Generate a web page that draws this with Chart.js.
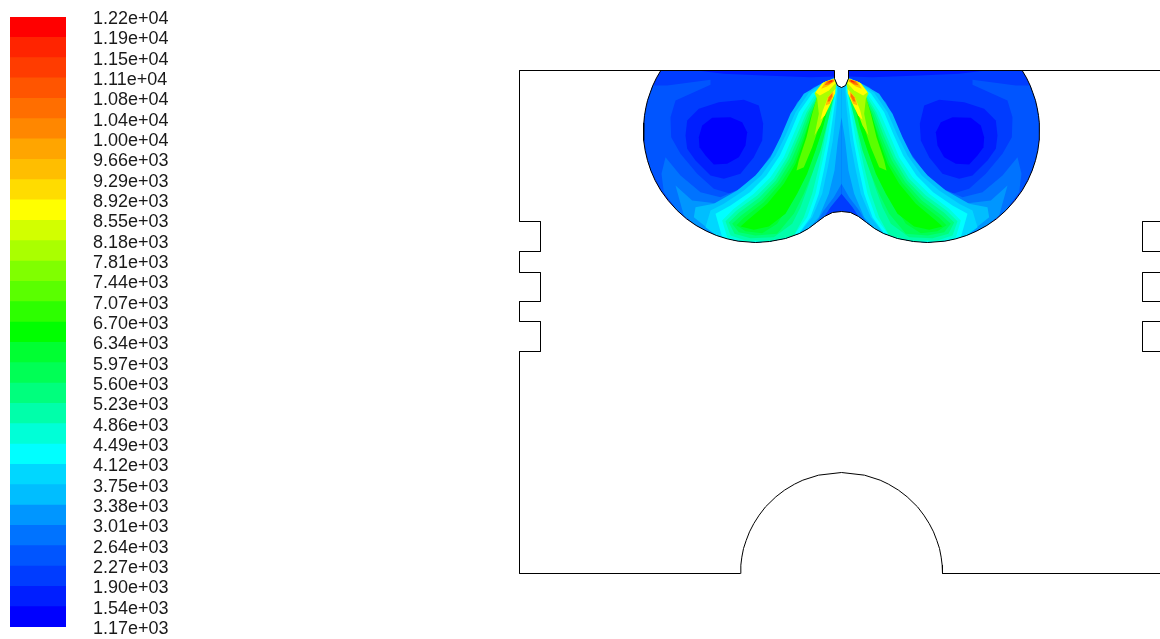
<!DOCTYPE html>
<html>
<head>
<meta charset="utf-8">
<title>Contours</title>
<script src="https://cdn.jsdelivr.net/npm/chart.js@4"></script>
<style>
    html, body { margin: 0; padding: 0; background: #fff; overflow: hidden; }
    canvas { position: absolute; top: 0; }
    #leyenda { left: 0; }
    #campo { left: 500px; }
</style>
</head>
<body>
<canvas id="leyenda" width="190" height="639"></canvas>
<canvas id="campo" width="660" height="639"></canvas>
<script>
// Etiquetas de la escala, de abajo a arriba
const tickLabels = ['1.17e+03', '1.54e+03', '1.90e+03', '2.27e+03', '2.64e+03', '3.01e+03', '3.38e+03', '3.75e+03',
    '4.12e+03', '4.49e+03', '4.86e+03', '5.23e+03', '5.60e+03', '5.97e+03', '6.34e+03', '6.70e+03',
    '7.07e+03', '7.44e+03', '7.81e+03', '8.18e+03', '8.55e+03', '8.92e+03', '9.29e+03', '9.66e+03',
    '1.00e+04', '1.04e+04', '1.08e+04', '1.11e+04', '1.15e+04', '1.19e+04', '1.22e+04'];

// Niveles sin redondear que separan las bandas
const levels = [1170, 1538, 1905, 2273, 2641, 3008, 3376, 3744, 4112, 4479, 4847, 5215, 5582, 5950, 6318, 6685,
    7053, 7421, 7788, 8156, 8524, 8892, 9259, 9627, 9995, 10362, 10730, 11098, 11466, 11833, 12200];

// Colores de cada banda, de la mas baja a la mas alta
const bandColors = ['#0000ff', '#001eff', '#003cff', '#0055ff', '#0073ff', '#0096ff', '#00beff', '#00d7ff',
    '#00ffff', '#00ffd7', '#00ffaa', '#00ff7d', '#00ff55', '#00ff32', '#00ff00', '#2dff00', '#5aff00',
    '#80ff00', '#aaff00', '#d2ff00', '#ffff00', '#ffdc00', '#ffbe00', '#ffa500', '#ff8700', '#ff6e00',
    '#ff5500', '#ff3c00', '#ff2400', '#ff0000'];

// Contorno de la geometria (coordenadas de malla, 3 unidades por pixel)
const wallLeft = [[612,30],[-333,30],[-333,483],[-270,483],[-270,573],[-333,573],[-333,636],[-270,636],[-270,723],[-333,723],
    [-333,783],[-270,783],[-270,873],[-333,873],[-333,1539],[330,1539],[331,1514],[334,1490],[339,1464],[347,1440],[357,1414],
    [370,1389],[386,1364],[405,1339],[436,1309],[462,1289],[492,1271],[517,1259],[564,1244],[633,1236],[702,1244],[749,1259],
    [774,1271],[804,1289],[830,1309],[861,1339],[880,1364],[896,1389],[909,1414],[919,1440],[927,1464],[932,1490],[935,1514],
    [936,1539],[1590,1539]];
const wallRight = [[654,30],[1590,30]];
const slotsRight1 = [[1590,483],[1536,483],[1536,573],[1590,573]];
const slotsRight2 = [[1590,636],[1536,636],[1536,723],[1590,723]];
const slotsRight3 = [[1590,783],[1536,783],[1536,873],[1590,873]];

const bean = [[91,30],[78,52],[67,75],[59,97],[51,120],[46,142],[42,165],[40,187],[39,210],[40,240],[44,270],[51,300],[61,330],
    [74,360],[91,390],[113,420],[140,450],[168,475],[197,495],[228,512],[258,525],[290,535],[323,542],[375,546],[417,543],
    [465,534],[507,519],[534,504],[558,486],[582,468],[606,456],[633,453],[660,456],[684,468],[708,486],[732,504],[759,519],
    [801,534],[849,543],[891,546],[943,542],[976,535],[1008,525],[1038,512],[1069,495],[1098,475],[1126,450],[1153,420],
    [1175,390],[1192,360],[1205,330],[1215,300],[1222,270],[1226,240],[1227,210],[1226,187],[1224,165],[1220,142],[1215,120],
    [1207,97],[1199,75],[1188,52],[1175,30],[654,30],[654,54],[645,75],[633,81],[621,75],[612,54],[612,30]];

// Zonas de contorno, lado izquierdo y derecho
const lightL = [[66,75],[110,75],[240,58],[240,73],[135,120],[120,170],[122,230],[150,280],[200,340],[250,385],[300,400],[340,395],[280,470],[200,495],[141,450],[93,390],[60,330],[45,270],[39,210],[42,165],[51,120]];
const lightR = [[1200,75],[1156,75],[1026,58],[1026,73],[1131,120],[1146,170],[1144,230],[1116,280],[1066,340],[1016,385],[966,400],[926,395],[986,470],[1066,495],[1125,450],[1173,390],[1206,330],[1221,270],[1227,210],[1224,165],[1215,120]];
const ringL = [[165,225],[170,180],[205,145],[265,125],[340,118],[385,135],[398,190],[395,240],[370,290],[330,340],[280,355],[240,345],[195,300],[170,265]];
const ringR = [[1101,225],[1096,180],[1061,145],[1001,125],[926,118],[881,135],[868,190],[871,240],[896,290],[936,340],[986,355],[1026,345],[1071,300],[1096,265]];
const coreL = [[205,230],[215,195],[245,172],[300,170],[335,185],[350,215],[345,255],[325,290],[290,310],[250,312],[225,285],[207,260]];
const coreR = [[1061,230],[1051,195],[1021,172],[966,170],[931,185],[916,215],[921,255],[941,290],[976,310],[1016,312],[1041,285],[1059,260]];
const stripL = [[200,30],[612,30],[612,48],[540,50],[400,45],[280,40]];
const stripR = [[654,30],[1066,30],[986,40],[866,45],[726,50],[654,48]];

const band4L = [[93,340],[105,290],[150,345],[210,395],[270,410],[330,385],[385,335],[435,265],[470,190],[500,125],[550,80],[610,52],[621,76],[633,82],[633,400],[600,440],[582,468],[558,486],[534,504],[507,519],[465,534],[417,543],[375,546],[312,540],[258,525],[198,495],[141,450],[100,395]];
const band4R = [[1173,340],[1161,290],[1116,345],[1056,395],[996,410],[936,385],[881,335],[831,265],[796,190],[766,125],[716,80],[656,52],[645,76],[633,82],[633,400],[666,440],[684,468],[708,486],[732,504],[759,519],[801,534],[849,543],[891,546],[954,540],[1008,525],[1068,495],[1125,450],[1166,395]];
const band5L = [[135,375],[185,420],[255,428],[335,400],[395,345],[445,275],[480,195],[510,125],[560,78],[610,52],[621,76],[633,82],[633,370],[610,410],[580,450],[558,486],[534,504],[507,519],[465,534],[417,543],[375,546],[312,540],[258,525],[198,495],[160,465]];
const band5R = [[1131,375],[1081,420],[1011,428],[931,400],[871,345],[821,275],[786,195],[756,125],[706,78],[656,52],[645,76],[633,82],[633,370],[656,410],[686,450],[708,486],[732,504],[759,519],[801,534],[849,543],[891,546],[954,540],[1008,525],[1068,495],[1106,465]];
const band6L = [[580,65],[520,100],[480,160],[450,230],[420,290],[375,345],[320,390],[250,430],[195,440],[190,470],[258,525],[312,540],[375,546],[417,543],[465,534],[507,519],[534,504],[565,470],[595,400],[612,330],[622,240],[633,170],[633,82],[621,76],[610,54]];
const band6R = [[686,65],[746,100],[786,160],[816,230],[846,290],[891,345],[946,390],[1016,430],[1071,440],[1076,470],[1008,525],[954,540],[891,546],[849,543],[801,534],[759,519],[732,504],[701,470],[671,400],[654,330],[644,240],[633,170],[633,82],[645,76],[656,54]];
const band7L = [[590,62],[535,97],[495,155],[465,225],[435,285],[392,345],[340,390],[280,430],[240,450],[225,500],[258,525],[312,540],[375,546],[417,543],[465,534],[507,519],[545,470],[575,400],[592,320],[607,240],[617,150],[622,90],[621,76],[610,54]];
const band7R = [[676,62],[731,97],[771,155],[801,225],[831,285],[874,345],[926,390],[986,430],[1026,450],[1041,500],[1008,525],[954,540],[891,546],[849,543],[801,534],[759,519],[721,470],[691,400],[674,320],[659,240],[649,150],[644,90],[645,76],[656,54]];
const band8L = [[595,63],[545,98],[505,155],[478,220],[448,285],[408,345],[358,395],[300,435],[255,460],[275,530],[312,540],[375,546],[417,543],[465,534],[505,519],[540,470],[565,400],[582,320],[597,240],[610,150],[620,85],[610,56]];
const band8R = [[671,63],[721,98],[761,155],[788,220],[818,285],[858,345],[908,395],[966,435],[1011,460],[991,530],[954,540],[891,546],[849,543],[801,534],[761,519],[726,470],[701,400],[684,320],[669,240],[656,150],[646,85],[656,56]];
const band9L = [[598,65],[555,100],[518,155],[490,220],[460,290],[420,350],[370,400],[310,445],[275,480],[290,530],[340,544],[417,543],[465,534],[490,525],[530,470],[555,400],[572,320],[590,240],[603,160],[615,95],[612,62]];
const band9R = [[668,65],[711,100],[748,155],[776,220],[806,290],[846,350],[896,400],[956,445],[991,480],[976,530],[926,544],[849,543],[801,534],[776,525],[736,470],[711,400],[694,320],[676,240],[663,160],[651,95],[654,62]];
const band10L = [[600,68],[562,100],[528,155],[500,222],[470,290],[430,355],[380,405],[318,450],[285,482],[300,525],[345,540],[420,540],[490,525],[520,470],[545,400],[565,320],[580,250],[595,170],[605,100]];
const band10R = [[666,68],[704,100],[738,155],[766,222],[796,290],[836,355],[886,405],[948,450],[981,482],[966,525],[921,540],[846,540],[776,525],[746,470],[721,400],[701,320],[686,250],[671,170],[661,100]];
const band11L = [[600,70],[565,102],[533,157],[506,226],[476,295],[436,360],[386,412],[325,457],[295,486],[312,520],[360,533],[430,530],[485,490],[510,440],[535,372],[558,295],[578,220],[600,140],[610,100]];
const band11R = [[666,70],[701,102],[733,157],[760,226],[790,295],[830,360],[880,412],[941,457],[971,486],[954,520],[906,533],[836,530],[781,490],[756,440],[731,372],[708,295],[688,220],[666,140],[656,100]];
const band12L = [[600,73],[568,105],[538,160],[512,230],[482,300],[442,365],[392,420],[332,465],[305,490],[325,515],[375,525],[440,520],[490,460],[520,400],[545,340],[570,270],[590,190],[610,110]];
const band12R = [[666,73],[698,105],[728,160],[754,230],[784,300],[824,365],[874,420],[934,465],[961,490],[941,515],[891,525],[826,520],[776,460],[746,400],[721,340],[696,270],[676,190],[656,110]];
const band13L = [[575,108],[545,162],[517,235],[490,305],[450,368],[400,425],[340,472],[318,494],[345,512],[395,518],[440,490],[478,430],[512,370],[540,310],[565,240],[585,170],[602,110]];
const band13R = [[691,108],[721,162],[749,235],[776,305],[816,368],[866,425],[926,472],[948,494],[921,512],[871,518],[826,490],[788,430],[754,370],[726,310],[701,240],[681,170],[664,110]];
const band14L = [[555,125],[540,170],[520,240],[495,310],[460,370],[410,430],[350,480],[330,498],[370,508],[415,498],[465,460],[500,400],[530,340],[555,270],[578,200],[590,150],[592,105]];
const band14R = [[711,125],[726,170],[746,240],[771,310],[806,370],[856,430],[916,480],[936,498],[896,508],[851,498],[801,460],[766,400],[736,340],[711,270],[688,200],[676,150],[674,105]];
const band16L = [[598,72],[562,100],[545,160],[528,230],[505,300],[498,330],[520,320],[545,260],[565,200],[585,140],[606,90]];
const band16R = [[668,72],[704,100],[721,160],[738,230],[761,300],[768,330],[746,320],[721,260],[701,200],[681,140],[660,90]];
const band18L = [[612,54],[578,66],[552,98],[560,115],[565,160],[552,225],[570,195],[587,150],[610,105],[618,72]];
const band18R = [[654,54],[688,66],[714,98],[706,115],[701,160],[714,225],[696,195],[679,150],[656,105],[648,72]];
const yellowUpL = [[612,54],[575,68],[555,95],[568,105],[595,90],[615,68]];
const yellowUpR = [[654,54],[691,68],[711,95],[698,105],[671,90],[651,68]];
const yellowLowL = [[615,85],[592,112],[577,150],[570,178],[583,165],[600,130],[614,98]];
const yellowLowR = [[651,85],[674,112],[689,150],[696,178],[683,165],[666,130],[652,98]];
const amberUpL = [[610,56],[585,62],[572,85],[590,78],[612,62]];
const amberUpR = [[656,56],[681,62],[694,85],[676,78],[654,62]];
const amberLowL = [[608,92],[592,110],[585,135],[598,130],[608,108]];
const amberLowR = [[658,92],[674,110],[681,135],[668,130],[658,108]];
const orangeUpL = [[608,57],[590,62],[582,74],[595,72],[610,62]];
const orangeUpR = [[658,57],[676,62],[684,74],[671,72],[656,62]];
const orangeLowL = [[605,98],[595,110],[591,124],[598,122],[605,108]];
const orangeLowR = [[661,98],[671,110],[675,124],[668,122],[661,108]];
const redL = [[606,58],[595,63],[593,67],[604,64]];
const redR = [[660,58],[671,63],[673,67],[662,64]];

// Orden de pintado: banda y zona
const contourLayers = [[2, bean], [3, lightL], [3, lightR], [1, ringL], [1, ringR], [0, coreL], [0, coreR], [1, stripL], [1, stripR],
    [4, band4L], [4, band4R], [5, band5L], [5, band5R], [6, band6L], [6, band6R], [7, band7L], [7, band7R],
    [8, band8L], [8, band8R], [9, band9L], [9, band9R], [10, band10L], [10, band10R], [11, band11L], [11, band11R],
    [12, band12L], [12, band12R], [13, band13L], [13, band13R], [14, band14L], [14, band14R],
    [16, band16L], [16, band16R], [18, band18L], [18, band18R],
    [20, yellowUpL], [20, yellowUpR], [20, yellowLowL], [20, yellowLowR],
    [22, amberUpL], [22, amberUpR], [22, amberLowL], [22, amberLowR],
    [25, orangeUpL], [25, orangeUpR], [25, orangeLowL], [25, orangeLowR], [28, redL], [28, redR]];

const wallLines = [wallLeft, wallRight, slotsRight1, slotsRight2, slotsRight3, bean];

crearLeyenda();
crearCampo();

function crearLeyenda() {
    // Una barra flotante por banda
    const datasets = bandColors.map((color, i) => ({
        data: [[levels[i], levels[i + 1]]],
        backgroundColor: color,
        borderWidth: 0,
        grouped: false,
        barPercentage: 1,
        categoryPercentage: 1
    }));

    new Chart(document.getElementById('leyenda').getContext('2d'), {
        type: 'bar',
        data: { labels: [''], datasets: datasets },
        options: {
            responsive: false,
            animation: false,
            layout: { padding: { left: 10, top: 17, bottom: 12, right: 0 } },
            plugins: { legend: { display: false }, tooltip: { enabled: false } },
            scales: {
                x: { display: false },
                y: {
                    position: 'right',
                    min: levels[0],
                    max: levels[levels.length - 1],
                    grid: { display: false, drawTicks: false },
                    border: { display: false },
                    afterBuildTicks: function(scale) {
                        scale.ticks = levels.map(v => ({ value: v }));
                    },
                    afterFit: function(scale) {
                        scale.width = 124;
                        scale.paddingTop = 0;
                        scale.paddingBottom = 0;
                    },
                    ticks: {
                        autoSkip: false,
                        padding: 27,
                        labelOffset: 2,
                        color: '#1a1a1a',
                        font: { family: '"Liberation Sans"', size: 18 },
                        callback: function(value, index) {
                            return tickLabels[index];
                        }
                    }
                }
            }
        }
    });
}

function crearCampo() {
    const fills = contourLayers.map((layer, i) => ({
        data: layer[1],
        showLine: true,
        fill: 'shape',
        backgroundColor: bandColors[layer[0]],
        borderColor: 'transparent',
        borderWidth: 0,
        pointRadius: 0,
        order: 1000 - i
    }));
    const walls = wallLines.map((line, i) => ({
        data: line,
        showLine: true,
        fill: false,
        borderColor: '#000000',
        borderWidth: 1,
        pointRadius: 0,
        order: -i - 1
    }));

    new Chart(document.getElementById('campo').getContext('2d'), {
        type: 'scatter',
        data: { datasets: fills.concat(walls) },
        options: {
            responsive: false,
            animation: false,
            layout: { padding: 0 },
            plugins: { legend: { display: false }, tooltip: { enabled: false } },
            scales: {
                x: { type: 'linear', display: false, min: -391.5, max: 1588.5 },
                y: { type: 'linear', display: false, reverse: true, min: -181.5, max: 1735.5 }
            }
        }
    });
}
</script>
</body>
</html>
